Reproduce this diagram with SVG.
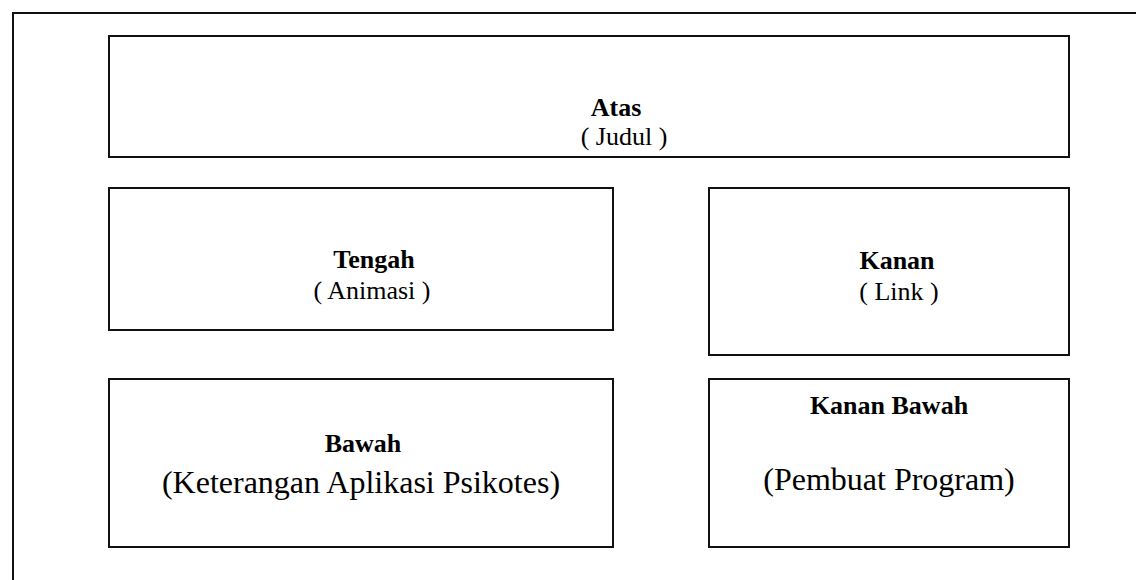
<svg xmlns="http://www.w3.org/2000/svg" width="1136" height="580" viewBox="0 0 1136 580">
  <style>
    .box { fill: #ffffff; stroke: #111111; stroke-width: 2; }
    .frame { fill: none; stroke: #111111; stroke-width: 2; }
    .title { font-family: "Liberation Serif", "Times New Roman", serif; font-weight: bold; font-size: 26px; fill: #000; text-anchor: middle; }
    .sub { font-family: "Liberation Serif", "Times New Roman", serif; font-size: 26px; fill: #000; text-anchor: middle; }
    .subl { font-family: "Liberation Serif", "Times New Roman", serif; font-size: 32px; fill: #000; text-anchor: middle; }
  </style>
  <rect width="1136" height="580" fill="#ffffff"/>

  <!-- page frame: top and left edges -->
  <path class="frame" d="M13 580 V13 H1136"/>

  <g id="atas">
    <rect class="box" x="109" y="36" width="960" height="121"/>
    <text class="title" x="616" y="116">Atas</text>
    <text class="sub" x="624" y="145">( Judul )</text>
  </g>

  <g id="tengah">
    <rect class="box" x="109" y="188" width="504" height="142"/>
    <text class="title" x="374" y="268">Tengah</text>
    <text class="sub" x="372" y="299">( Animasi )</text>
  </g>

  <g id="kanan">
    <rect class="box" x="709" y="188" width="360" height="167"/>
    <text class="title" x="897" y="269">Kanan</text>
    <text class="sub" x="899" y="300">( Link )</text>
  </g>

  <g id="bawah">
    <rect class="box" x="109" y="379" width="504" height="168"/>
    <text class="title" x="363" y="452">Bawah</text>
    <text class="subl" x="361" y="493">(Keterangan Aplikasi Psikotes)</text>
  </g>

  <g id="kanan-bawah">
    <rect class="box" x="709" y="379" width="360" height="168"/>
    <text class="title" x="889" y="414">Kanan Bawah</text>
    <text class="subl" x="889" y="490">(Pembuat Program)</text>
  </g>

  <g id="connectors"></g>
</svg>
